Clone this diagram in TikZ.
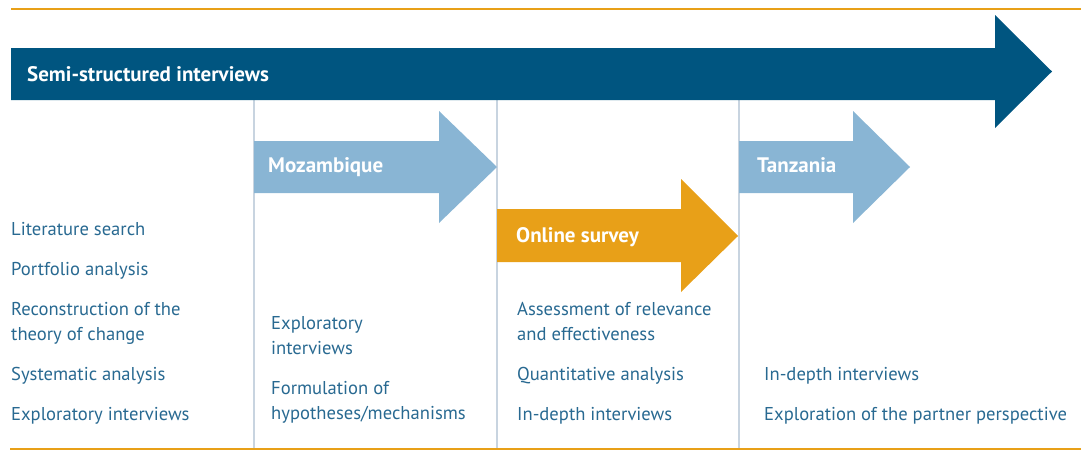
\documentclass[tikz,border=0pt]{standalone}
\usepackage{fontspec}
\setmainfont{PT Sans}
\definecolor{bandblue}{RGB}{0,85,128}
\definecolor{phaseblue}{RGB}{137,181,212}
\definecolor{surveyorange}{RGB}{232,160,24}
\definecolor{itemblue}{RGB}{40,105,145}
\definecolor{rulegray}{RGB}{200,212,224}
\tikzset{
  itemtext/.style={anchor=west, inner sep=0pt, align=left, text=itemblue,
    font=\fontsize{18.6}{25}\selectfont},
  phasetext/.style={anchor=base west, inner sep=0pt, text=white,
    font=\fontsize{21}{25}\selectfont\bfseries},
  divider/.style={rulegray, line width=1.3pt},
  orangerule/.style={surveyorange, line width=2pt}
}
\begin{document}
\begin{tikzpicture}[x=1pt,y=-1pt]
\useasboundingbox (0,0) rectangle (1081,450);
% rules
\draw[orangerule] (11,9) -- (1081,9);
\draw[orangerule] (10,448.5) -- (1081,448.5);
\draw[divider] (254,100) -- (254,448);
\draw[divider] (497,100) -- (497,448);
\draw[divider] (739,100) -- (739,448);
% arrows
\fill[bandblue] (11,48) -- (995,48) -- (995,15) -- (1052,71.5) -- (995,128) -- (995,100) -- (11,100) -- cycle;
\fill[phaseblue] (254,141) -- (439,141) -- (439,111) -- (497,167) -- (439,223) -- (439,193) -- (254,193) -- cycle;
\fill[surveyorange] (497,209) -- (681,209) -- (681,179) -- (738,236) -- (681,292) -- (681,262) -- (497,262) -- cycle;
\fill[phaseblue] (739,141) -- (853,141) -- (853,111) -- (910,167) -- (853,223) -- (853,193) -- (739,193) -- cycle;
\node[phasetext] (semi) at (27,81) {Semi-structured interviews};
\node[phasetext] (mozambique) at (268,172.5) {Mozambique};
\node[phasetext] (survey) at (516,242.5) {Online survey};
\node[phasetext] (tanzania) at (757,172.5) {Tanzania};
% desk phase
\node[itemtext] (litsearch) at (11,230.5) {\strut Literature search};
\node[itemtext] (portfolio) at (11,270.5) {\strut Portfolio analysis};
\node[itemtext] (toc) at (11,322.5) {\strut Reconstruction of the\\\strut theory of change};
\node[itemtext] (systematic) at (11,375) {\strut Systematic analysis};
\node[itemtext] (explore) at (11,415) {\strut Exploratory interviews};
% Mozambique
\node[itemtext] (mozexplore) at (271,337) {\strut Exploratory\\\strut interviews};
\node[itemtext] (hypotheses) at (271,402) {\strut Formulation of\\\strut hypotheses/mechanisms};
% survey
\node[itemtext] (relevance) at (517,322.5) {\strut Assessment of relevance\\\strut and effectiveness};
\node[itemtext] (quant) at (517,375) {\strut Quantitative analysis};
\node[itemtext] (surveydepth) at (517,415) {\strut In-depth interviews};
% Tanzania
\node[itemtext] (tzdepth) at (764,375) {\strut In-depth interviews};
\node[itemtext] (partner) at (764,415) {\strut Exploration of the partner perspective};
\end{tikzpicture}
\end{document}
